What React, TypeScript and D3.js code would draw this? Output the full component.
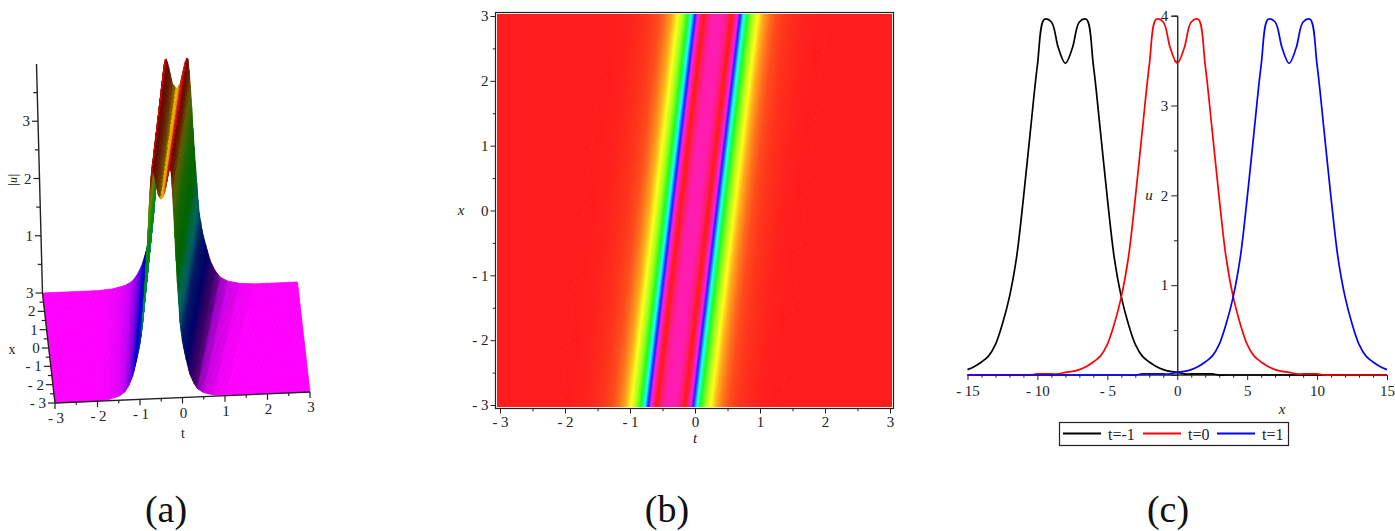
import * as d3 from "d3";
import {useEffect, useRef} from "react";

const WIDTH = 1395;
const HEIGHT = 531;
const SERIF = "'Liberation Serif', serif";

// cross-section of the wave: distance from the band centre -> |u|
const bandOffset = [0, 0.08, 0.16, 0.2, 0.24, 0.28, 0.346, 0.4, 0.46, 0.53, 0.615, 0.7, 0.8, 0.9, 1.05, 1.3, 1.6, 6];
const bandU = [3.47, 3.56, 3.86, 4, 3.98, 3.6, 2.67, 2, 1.33, 0.95, 0.67, 0.42, 0.25, 0.14, 0.07, 0.02, 0, 0];

// where the band sits at x=-3 and x=3
const xEnds = [-3, 3];
const bandCentreB = [-0.37, 0.346];
const bandCentreA = [-0.5, 0.15];
const bandWidthA = [0.95, 1.15];

// colour maps: height -> hue
const heatU = [0, 0.67, 1.33, 2, 2.67, 3.4, 3.56, 3.86, 4];
const heatHue = [0, 60, 120, 180, 240, 318, 322, 338, 360];
const surfU = [0, 0.3, 0.6, 1, 1.5, 2, 3, 3.4, 3.7, 4];
const surfHue = [300, 270, 240, 225, 170, 125, 100, 55, 20, 0];

// panel (c), one value every 0.5 from -15 to 15
const curveX = d3.range(61).map(i => -15 + i * 0.5);
const uMinus1 = [0.06, 0.095, 0.145, 0.21, 0.34, 0.57, 0.87, 1.3, 1.97, 2.72, 3.45, 3.96, 3.93, 3.64, 3.47, 3.64, 3.93, 3.96, 3.45, 2.72, 1.97, 1.3, 0.87, 0.57, 0.34, 0.21, 0.145, 0.095, 0.06, 0.04, 0.03, 0.012, 0.012, 0.012, 0.012, 0.012, 0, 0, 0, 0, 0, 0, 0, 0, 0, 0, 0, 0, 0, 0, 0, 0, 0, 0, 0, 0, 0, 0, 0, 0, 0];
const uZero = [0, 0, 0, 0, 0, 0, 0, 0, 0, 0, 0.012, 0.012, 0.012, 0.012, 0.03, 0.04, 0.06, 0.095, 0.145, 0.21, 0.34, 0.57, 0.87, 1.3, 1.97, 2.72, 3.45, 3.96, 3.93, 3.64, 3.47, 3.64, 3.93, 3.96, 3.45, 2.72, 1.97, 1.3, 0.87, 0.57, 0.34, 0.21, 0.145, 0.095, 0.06, 0.04, 0.03, 0.012, 0.012, 0.012, 0.012, 0, 0, 0, 0, 0, 0, 0, 0, 0, 0];
const uPlus1 = [0, 0, 0, 0, 0, 0, 0, 0, 0, 0, 0, 0, 0, 0, 0, 0, 0, 0, 0, 0, 0, 0, 0, 0, 0, 0.012, 0.012, 0.012, 0.012, 0.012, 0.03, 0.04, 0.06, 0.095, 0.145, 0.21, 0.34, 0.57, 0.87, 1.3, 1.97, 2.72, 3.45, 3.96, 3.93, 3.64, 3.47, 3.64, 3.93, 3.96, 3.45, 2.72, 1.97, 1.3, 0.87, 0.57, 0.34, 0.21, 0.145, 0.095, 0.06];

const seriesNames = ["t=-1", "t=0", "t=1"];
const seriesColors = ["#000000", "#ff0000", "#0000ff"];
const seriesValues = [uMinus1, uZero, uPlus1];

const captions = ["(a)", "(b)", "(c)"];
const captionX = [166, 667, 1168];

const tMajor = [-3, -2, -1, 0, 1, 2, 3];
const tMinor = [-2.5, -1.5, -0.5, 0.5, 1.5, 2.5];
const zMajor = [1, 2, 3];
const zMinor = [0.5, 1.5, 2.5, 3.5];
const cXMajor = [-15, -10, -5, 0, 5, 10, 15];
const cXMinor = d3.range(-15, 16).filter(d => d % 5 !== 0);
const cYMajor = [1, 2, 3, 4];
const cYMinor = [0.5, 1.5, 2.5, 3.5];

const fmt = (d: number) => (d < 0 ? `- ${-d}` : `${d}`);

const profile = d3.scaleLinear(bandOffset, bandU).clamp(true);
const uAt = (s: number) => profile(Math.abs(s));

// major + minor ticks through d3.axis
function drawAxis(g: any, make: any, scale: any, major: number[], minor: number[], size: number, pad: number) {
    g.append("g").call(make(scale).tickValues(minor).tickSize(size * 0.55).tickFormat(() => ""));
    g.append("g").call(make(scale).tickValues(major).tickSize(size).tickPadding(pad).tickFormat(fmt));
    g.selectAll("path.domain").attr("stroke", "#222");
    g.selectAll("line").attr("stroke", "#222");
    g.selectAll("text").attr("font-family", SERIF).attr("font-size", 15).attr("fill", "#222");
}

function label(svg: any, x: number, y: number, txt: string, size = 15, italic = true) {
    return svg.append("text")
        .attr("x", x).attr("y", y)
        .attr("text-anchor", "middle")
        .attr("font-family", SERIF)
        .attr("font-size", size)
        .attr("font-style", italic ? "italic" : "normal")
        .attr("fill", "#222")
        .text(txt);
}

function panelA(svg: any) {
    const g = svg.append("g");
    // the axes box is a slightly tilted view, so three linear scales are added up
    const tX = d3.scaleLinear([-3, 3], [55, 310]);
    const tY = d3.scaleLinear([-3, 3], [403, 392]);
    const xX = d3.scaleLinear(xEnds, [0, -12.5]);
    const xY = d3.scaleLinear(xEnds, [0, -110]);
    const zY = d3.scaleLinear([0, 4], [0, -229]);
    const zLean = d3.scaleLinear([0, 4], [0, -6]);
    const project = (t: number, x: number, z: number): [number, number] =>
        [tX(t) + xX(x), tY(t) + xY(x) + zY(z)];

    const centre = d3.scaleLinear(xEnds, bandCentreA);
    const spread = d3.scaleLinear(xEnds, bandWidthA);
    const height = (t: number, x: number) => uAt((t - centre(x)) / spread(x));
    const hue = d3.scaleLinear(surfU, surfHue);

    const ts = d3.range(201).map(i => -3 + i * 0.03);
    const xs = d3.range(49).map(i => 3 - i / 8); // back to front
    const quads: any[] = [];
    for (let r = 0; r < xs.length - 1; r++) {
        for (let c = 0; c < ts.length - 1; c++) {
            const [t0, t1, x0, x1] = [ts[c], ts[c + 1], xs[r], xs[r + 1]];
            const u00 = height(t0, x0), u10 = height(t1, x0), u01 = height(t0, x1), u11 = height(t1, x1);
            const slope = ((u10 + u11) - (u00 + u01)) / 2 / (t1 - t0);
            const mean = (u00 + u10 + u01 + u11) / 4;
            const shade = slope < 0
                ? 1 - 0.6 * Math.min(1, -slope / 1.2)
                : 1 - 0.45 * Math.min(1, slope / 6);
            quads.push({
                pts: [project(t0, x0, u00), project(t1, x0, u10), project(t1, x1, u11), project(t0, x1, u01)],
                fill: d3.hsl(hue(mean), 1, 0.5 * shade).formatHex(),
            });
        }
    }
    g.selectAll("polygon").data(quads).join("polygon")
        .attr("points", (d: any) => d.pts.join(" "))
        .attr("fill", (d: any) => d.fill)
        .attr("stroke", (d: any) => d.fill)
        .attr("stroke-width", 0.7);

    const line = (a: [number, number], b: [number, number], w = 1.2) =>
        svg.append("line").attr("x1", a[0]).attr("y1", a[1]).attr("x2", b[0]).attr("y2", b[1])
            .attr("stroke", "#222").attr("stroke-width", w);

    // t axis
    line(project(-3, -3, 0), project(3, -3, 0), 1.4);
    tMajor.concat(tMinor).forEach(t => {
        const p = project(t, -3, 0);
        const major = tMajor.includes(t);
        line(p, [p[0], p[1] + (major ? 6 : 3)]);
        if (major) label(svg, p[0] + 1, p[1] + 20, fmt(t), 15, false);
    });
    // x axis
    line(project(-3, 3, 0), project(-3, -3, 0), 1.4);
    tMajor.concat(tMinor).forEach(x => {
        const p = project(-3, x, 0);
        const major = tMajor.includes(x);
        line(p, [p[0] - (major ? 7 : 4), p[1]]);
        if (major) label(svg, p[0] - 9, p[1] + 5, fmt(x), 15, false).attr("text-anchor", "end");
    });
    // z axis
    const zBase = project(-3, 3, 0);
    const zAt = (z: number): [number, number] => [zBase[0] + zLean(z), zBase[1] + zY(z)];
    line(zAt(0), zAt(4), 1.4);
    zMajor.concat(zMinor).forEach(z => {
        const p = zAt(z);
        const major = zMajor.includes(z);
        line(p, [p[0] - (major ? 6 : 4), p[1]]);
        if (major) label(svg, p[0] - 8, p[1] + 5, fmt(z), 15, false).attr("text-anchor", "end");
    });

    label(svg, 183, 438, "t", 14, false);
    label(svg, 12, 354, "x", 14, false);
    svg.append("text")
        .attr("transform", "translate(17,180) rotate(-90)")
        .attr("text-anchor", "middle")
        .attr("font-family", SERIF).attr("font-size", 12).attr("font-style", "italic").attr("fill", "#222")
        .text("|u|");
}

function panelB(svg: any) {
    const t = d3.scaleLinear([-3, 3], [500, 890]);
    const x = d3.scaleLinear([-3, 3], [405, 16]);
    const hue = d3.scaleLinear(heatU, heatHue);
    const box = {left: 497, right: 892, top: 14, bottom: 407};

    const centre = d3.scaleLinear(xEnds, bandCentreB);
    const pxPerT = t(1) - t(0);
    const shear = (t(centre(3)) - t(centre(-3))) / (x(3) - x(-3));

    const defs = svg.append("defs");
    defs.append("clipPath").attr("id", "heat-clip").append("rect")
        .attr("x", box.left).attr("y", box.top)
        .attr("width", box.right - box.left).attr("height", box.bottom - box.top);

    const span = 1.7;
    const stops = d3.range(341).map(i => -span + i * 0.01);
    const grad = defs.append("linearGradient").attr("id", "heat-band")
        .attr("gradientUnits", "userSpaceOnUse")
        .attr("x1", -span * pxPerT).attr("x2", span * pxPerT).attr("y1", 0).attr("y2", 0);
    grad.selectAll("stop").data(stops).join("stop")
        .attr("offset", (s: number) => (s + span) / (2 * span))
        .attr("stop-color", (s: number) => d3.hsl(hue(uAt(s)), 1, 0.555).formatHex());

    svg.append("g").attr("clip-path", "url(#heat-clip)").append("g")
        .attr("transform", `matrix(1,0,${shear},1,${t(centre(0))},${x(0)})`)
        .append("rect")
        .attr("x", -span * pxPerT).attr("y", -220)
        .attr("width", 2 * span * pxPerT).attr("height", 440)
        .attr("fill", "url(#heat-band)");
    // the flat part either side of the band
    const side = svg.append("g").attr("clip-path", "url(#heat-clip)")
        .append("g").attr("transform", `matrix(1,0,${shear},1,${t(centre(0))},${x(0)})`);
    const bg = d3.hsl(hue(0), 1, 0.555).formatHex();
    side.append("rect").attr("x", -700).attr("y", -220).attr("width", 700 - span * pxPerT + 0.5).attr("height", 440).attr("fill", bg);
    side.append("rect").attr("x", span * pxPerT - 0.5).attr("y", -220).attr("width", 700).attr("height", 440).attr("fill", bg);

    svg.append("rect").attr("x", 495.5).attr("y", 12.5).attr("width", 398).attr("height", 396)
        .attr("fill", "none").attr("stroke", "#222").attr("stroke-width", 1.2);

    const bottom = svg.append("g").attr("transform", "translate(0,408.5)");
    drawAxis(bottom, d3.axisBottom, t, tMajor, tMinor, 5, 3);
    bottom.selectAll("path.domain").remove();
    const left = svg.append("g").attr("transform", "translate(495.5,0)");
    drawAxis(left, d3.axisLeft, x, tMajor, tMinor, 5, 2);
    left.selectAll("path.domain").remove();

    label(svg, 695, 443, "t");
    label(svg, 461, 215, "x");
}

function panelC(svg: any) {
    const x = d3.scaleLinear([-15, 15], [967.5, 1387]);
    const u = d3.scaleLinear([0, 4], [375, 15.7]);

    const bottom = svg.append("g").attr("transform", "translate(0,375)");
    drawAxis(bottom, d3.axisBottom, x, cXMajor, cXMinor, 5, 5);
    bottom.selectAll("path.domain").attr("d", `M${x(-15)},0H${x(15)}`);
    const left = svg.append("g").attr("transform", `translate(${x(0)},0)`);
    drawAxis(left, d3.axisLeft, u, cYMajor, cYMinor, 6, 3);

    const line = d3.line<number>()
        .x((_, i) => x(curveX[i]))
        .y(d => u(d))
        .curve(d3.curveCatmullRom);
    svg.selectAll("path.curve").data(seriesValues).join("path")
        .attr("class", "curve")
        .attr("d", (d: number[]) => line(d))
        .attr("fill", "none")
        .attr("stroke", (_: any, i: number) => seriesColors[i])
        .attr("stroke-width", 1.7);

    label(svg, 1149, 200, "u");
    label(svg, 1282, 414, "x");

    // legend
    svg.append("rect").attr("x", 1059.5).attr("y", 422.5).attr("width", 229).attr("height", 23)
        .attr("fill", "#fff").attr("stroke", "#222").attr("stroke-width", 1.2);
    const legendX = d3.scaleOrdinal<string, number>().domain(seriesNames).range([1063, 1143, 1217]);
    seriesNames.forEach((name, i) => {
        const x0 = legendX(name);
        svg.append("line").attr("x1", x0).attr("x2", x0 + 38).attr("y1", 433.5).attr("y2", 433.5)
            .attr("stroke", seriesColors[i]).attr("stroke-width", 1.8);
        label(svg, x0 + 45, 440, name, 16, false).attr("text-anchor", "start");
    });
}

const App = () => {
    const ref = useRef<SVGSVGElement>(null);

    useEffect(() => {
        const svg = d3.select(ref.current);
        svg.selectAll("*").remove();
        panelA(svg);
        panelB(svg);
        panelC(svg);
        captions.forEach((c, i) => {
            label(svg, captionX[i], 522, c, 38, false).attr("fill", "#111");
        });
    }, []);

    return (
        <svg ref={ref} width={WIDTH} height={HEIGHT}
             style={{position: "absolute", left: 0, top: 0, background: "#fff", display: "block"}}/>
    );
};

export default App;
